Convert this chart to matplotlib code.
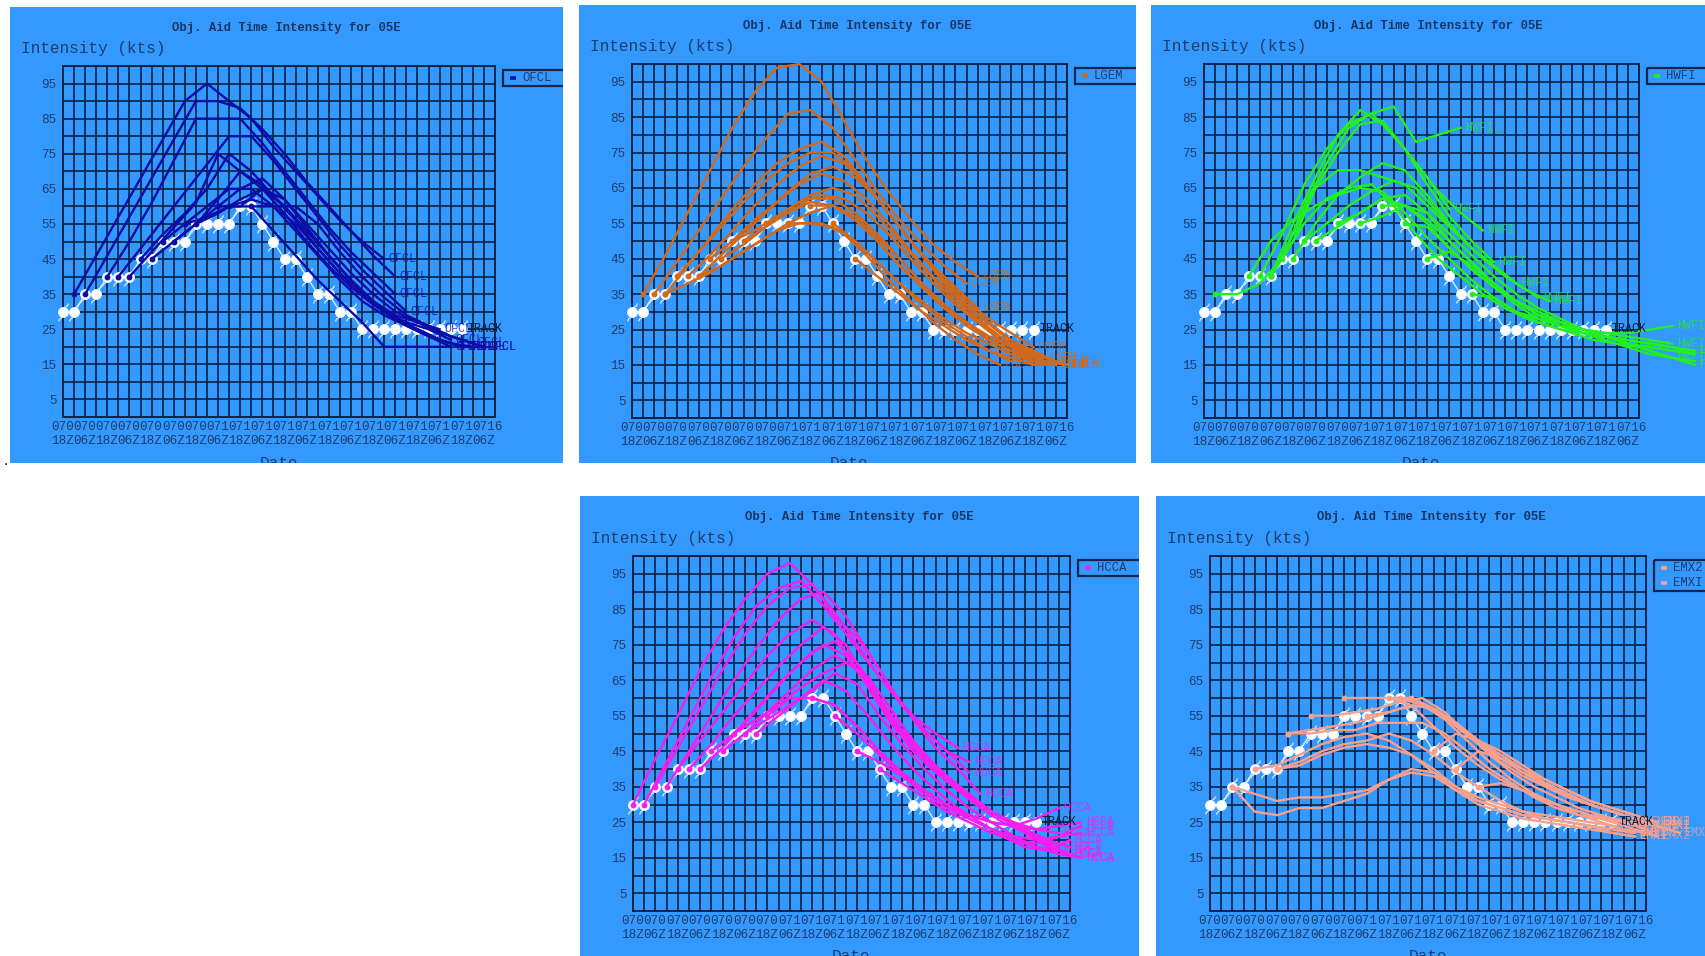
import numpy as np
import matplotlib
matplotlib.use('Agg')
import matplotlib.pyplot as plt
from matplotlib.patches import Rectangle
from matplotlib.path import Path
from matplotlib.transforms import offset_copy

FONT = 'Liberation Mono'

# ---------------- data ----------------
track_values = [30, 30, 35, 35, 40, 40, 40, 45, 45, 50, 50, 50, 55, 55, 55, 55, 60, 60,
                55, 50, 45, 45, 40, 35, 35, 30, 30, 25, 25, 25, 25, 25, 25, 25, 25, 25, 25]

x_tick_dates = ['0706', '0707', '0707', '0708', '0708', '0709', '0709', '0710', '0710', '0711',
                '0711', '0712', '0712', '0713', '0713', '0714', '0714', '0715', '0715', '0716']
x_tick_hours = ['18Z', '06Z', '18Z', '06Z', '18Z', '06Z', '18Z', '06Z', '18Z', '06Z',
                '18Z', '06Z', '18Z', '06Z', '18Z', '06Z', '18Z', '06Z', '18Z', '06Z']
y_label_values = [5, 15, 25, 35, 45, 55, 65, 75, 85, 95]

# forecasts: (start index in 6-h steps, intensities every 12 h)
ofcl_forecasts = [
    (1, [35, 46, 57, 68, 79, 90, 95, 90, 85, 77, 70, 63, 56, 50, 45]),
    (2, [35, 46, 57, 68, 79, 90, 90, 88, 82, 75, 67, 60, 53, 46, 40]),
    (4, [40, 50, 61, 73, 85, 85, 85, 78, 70, 62, 54, 47, 41, 35]),
    (5, [40, 48, 56, 64, 72, 80, 80, 73, 65, 57, 49, 42, 36, 30]),
    (6, [40, 47, 54, 61, 75, 70, 66, 60, 53, 46, 39, 33, 29, 27, 25]),
    (7, [45, 52, 58, 65, 75, 70, 63, 56, 48, 41, 35, 30, 27, 25, 22]),
    (8, [45, 50, 55, 62, 70, 65, 58, 50, 43, 37, 32, 28, 25, 22, 20]),
    (9, [50, 55, 60, 65, 65, 60, 53, 46, 39, 33, 29, 26, 23, 21, 20]),
    (10, [50, 55, 60, 65, 68, 62, 54, 46, 39, 33, 28, 25, 22, 20, 20]),
    (11, [55, 57, 60, 60, 60, 60, 55, 47, 40, 34, 29, 26, 23, 21]),
    (12, [55, 58, 62, 65, 62, 55, 48, 41, 35, 30, 27, 24, 22, 20]),
    (14, [60, 60, 65, 60, 53, 46, 39, 33, 28, 25, 22, 20]),
    (15, [60, 62, 60, 55, 48, 41, 35, 30, 26, 23, 20]),
    (17, [60, 53, 46, 39, 33, 27, 20, 20, 20, 20]),
]

lgem_forecasts = [
    (1, [35, 46, 58, 70, 82, 92, 99, 100, 95, 84, 73, 64, 56, 49, 44, 40]),
    (2, [35, 44, 53, 62, 71, 79, 86, 87, 82, 73, 64, 56, 49, 43, 38]),
    (3, [35, 43, 51, 59, 66, 72, 76, 78, 74, 66, 58, 50, 43, 37, 31]),
    (4, [40, 47, 54, 61, 67, 72, 75, 75, 70, 62, 54, 46, 39, 33, 28, 24, 20]),
    (5, [40, 46, 53, 60, 66, 71, 74, 72, 66, 58, 50, 42, 35, 29, 24, 20, 17]),
    (6, [40, 46, 52, 58, 64, 69, 71, 68, 62, 54, 46, 38, 32, 27, 22, 19, 16]),
    (7, [45, 50, 56, 61, 66, 69, 67, 62, 55, 47, 40, 34, 28, 23, 19, 16, 15]),
    (8, [45, 49, 54, 59, 63, 65, 63, 57, 50, 43, 36, 30, 25, 21, 18, 16]),
    (9, [50, 53, 57, 61, 63, 62, 58, 52, 45, 38, 32, 27, 22, 19, 16, 15]),
    (10, [50, 54, 58, 62, 62, 58, 52, 45, 38, 32, 27, 22, 19, 16, 15]),
    (12, [55, 58, 61, 60, 56, 50, 43, 37, 31, 26, 22, 19, 17, 15]),
    (14, [55, 58, 60, 57, 51, 45, 38, 32, 27, 23, 20, 17, 15]),
    (16, [60, 60, 56, 50, 43, 37, 31, 27, 23, 20, 17, 15]),
    (3, [35, 38, 41, 45, 49, 53, 55, 55, 52, 46, 39, 33, 27, 22, 18, 15]),
    (6, [40, 43, 47, 51, 55, 55, 54, 50, 44, 38, 32, 27, 23, 19, 16]),
    (18, [55, 50, 44, 38, 33, 28, 24, 21, 18, 16, 15]),
    (20, [45, 40, 35, 30, 26, 22, 19, 17, 15, 15]),
]

hwfi_forecasts = [
    (5, [40, 52, 66, 76, 83, 86, 88, 78, 80, 82]),
    (6, [40, 55, 68, 80, 87, 83, 76, 68, 59]),
    (7, [45, 60, 72, 82, 86, 80, 72, 64, 58, 53]),
    (6, [40, 52, 65, 75, 83, 84, 76, 66, 57, 50, 44]),
    (6, [40, 50, 65, 70, 70, 68, 66, 60, 54, 48, 43, 38]),
    (8, [45, 55, 63, 68, 72, 70, 63, 55, 48, 43, 38, 34]),
    (9, [50, 55, 60, 64, 67, 65, 58, 51, 45, 40, 36, 33]),
    (4, [40, 50, 56, 60, 63, 65, 64, 58, 51, 45, 39, 34, 30, 27, 25, 24, 23, 22, 21, 20, 19]),
    (10, [50, 54, 58, 62, 60, 55, 48, 42, 37, 32, 28, 26, 24, 23, 22, 21, 20, 18]),
    (12, [55, 58, 62, 63, 58, 50, 44, 38, 33, 29, 26, 24, 22, 20, 18, 17]),
    (14, [55, 57, 60, 58, 52, 46, 40, 35, 31, 28, 25, 23, 21, 19, 17, 16]),
    (16, [60, 60, 56, 50, 44, 38, 33, 30, 27, 25, 23, 21, 19, 17, 15]),
    (18, [55, 54, 48, 42, 37, 33, 29, 27, 25, 23, 21, 20, 19, 18]),
    (20, [45, 47, 43, 38, 33, 30, 27, 25, 24, 23, 22, 21]),
    (24, [35, 34, 30, 28, 26, 25, 24, 24, 25, 26]),
    (1, [35, 35, 38, 45, 55, 62, 65, 66, 60, 52, 45, 40, 35, 31, 28, 26, 24, 22, 21, 20]),
]

hcca_forecasts = [
    (0, [30, 43, 55, 68, 79, 88, 95, 98, 92, 83, 77, 68, 58, 51, 45, 39]),
    (1, [30, 42, 54, 66, 77, 86, 91, 93, 86, 78, 70, 62, 55, 50, 46]),
    (2, [35, 46, 57, 68, 78, 86, 91, 92, 84, 75, 66, 58, 51, 45, 42]),
    (3, [35, 45, 55, 65, 74, 82, 88, 90, 83, 73, 63, 54, 46, 40, 33]),
    (4, [40, 48, 56, 64, 72, 78, 82, 78, 68, 58, 50, 43, 37, 32, 28, 25, 23, 22]),
    (5, [40, 47, 55, 62, 69, 75, 80, 75, 64, 54, 46, 40, 35, 30, 26, 23, 20, 18]),
    (6, [40, 46, 53, 60, 67, 73, 76, 70, 60, 50, 43, 37, 32, 28, 24, 21, 18]),
    (7, [45, 50, 57, 64, 70, 75, 72, 63, 53, 45, 39, 34, 29, 25, 22, 19, 16]),
    (8, [45, 50, 56, 62, 68, 72, 68, 60, 51, 44, 38, 33, 28, 24, 20, 17, 15]),
    (9, [50, 54, 58, 63, 67, 70, 66, 57, 48, 41, 35, 30, 26, 22, 18, 16]),
    (10, [50, 54, 58, 62, 67, 64, 55, 47, 40, 34, 29, 25, 21, 18, 16, 15]),
    (11, [50, 55, 60, 65, 62, 55, 47, 40, 34, 29, 25, 21, 18, 17, 20]),
    (12, [55, 60, 60, 58, 52, 45, 39, 34, 30, 27, 25, 24, 26, 29]),
    (16, [60, 58, 52, 45, 39, 34, 30, 27, 25, 24, 23, 24, 25]),
    (18, [55, 50, 44, 38, 33, 29, 26, 23, 21, 20, 21, 22]),
    (20, [45, 42, 38, 34, 30, 26, 23, 20, 18, 17]),
    (22, [40, 36, 32, 28, 25, 22, 20, 19, 21, 24]),
]

emx_forecasts = [
    (12, [60, 60, 60, 58, 52, 46, 41, 37, 34, 31, 29, 27, 25, 23, 21]),
    (18, [60, 57, 53, 48, 43, 39, 36, 33, 30, 28, 26, 24]),
    (9, [55, 55, 56, 57, 59, 60, 56, 50, 44, 39, 35, 32, 29, 27, 25, 23]),
    (7, [50, 51, 52, 53, 55, 57, 58, 54, 48, 42, 37, 33, 30, 27, 25, 23, 22]),
    (6, [40, 42, 45, 47, 48, 50, 48, 44, 39, 35, 31, 28, 26, 25, 24, 23, 22]),
    (6, [40, 41, 44, 46, 47, 46, 44, 40, 35, 31, 29, 27, 26, 25, 24, 22, 21]),
    (2, [35, 33, 31, 32, 32, 33, 34, 37, 40, 39, 35, 32, 30, 28, 27, 26, 25, 24, 22]),
    (2, [35, 28, 27, 29, 29, 31, 33, 37, 39, 38, 34, 31, 29, 27, 26, 25, 24, 23, 22]),
    (7, [50, 50, 51, 51, 53, 53, 53, 50, 45, 40, 36, 32, 29, 27, 26, 25, 24]),
    (14, [55, 56, 58, 57, 52, 47, 42, 38, 35, 32, 30, 28, 26, 24]),
    (16, [60, 60, 57, 53, 48, 44, 40, 36, 33, 30, 28, 26, 24, 22]),
    (17, [60, 58, 55, 50, 45, 41, 37, 34, 31, 29, 27, 25]),
    (20, [45, 50, 48, 45, 41, 37, 34, 31, 29, 27, 25]),
    (22, [40, 45, 43, 40, 37, 34, 31, 29, 27, 25]),
    (24, [35, 36, 34, 31, 29, 27, 26, 25, 24]),
    (4, [40, 41, 44, 47, 49, 50, 48, 44, 39, 34, 30, 28, 26, 25, 24, 23, 22, 21]),
]
emx_names = ['EMX2', 'EMXI'] * 8

# ---------------- style ----------------
W, H = 1706, 956
BLUE = '#3399ff'
GRID = '#0e2448'
TXT = '#1f3d6a'
TITLE = 'Obj. Aid Time Intensity for 05E'
TICK_FS = 9.1

panels = [
    dict(panel=(10, 7, 563, 463), plot=(63, 66, 495, 417), color='#0c0ca8',
         fc=ofcl_forecasts, names=['OFCL'] * len(ofcl_forecasts), legend=['OFCL']),
    dict(panel=(579, 5, 1136, 463), plot=(632, 64, 1067, 418), color='#d0691e',
         fc=lgem_forecasts, names=['LGEM'] * len(lgem_forecasts), legend=['LGEM']),
    dict(panel=(1151, 5, 1706, 463), plot=(1204, 64, 1639, 418), color='#22ee22',
         fc=hwfi_forecasts, names=['HWFI'] * len(hwfi_forecasts), legend=['HWFI']),
    dict(panel=(580, 496, 1139, 956), plot=(633, 556, 1070, 911), color='#f51ef0',
         fc=hcca_forecasts, names=['HCCA'] * len(hcca_forecasts), legend=['HCCA']),
    dict(panel=(1156, 496, 1706, 956), plot=(1210, 556, 1646, 911), color='#f7a08e',
         fc=emx_forecasts, names=emx_names, legend=['EMX2', 'EMXI']),
]

# small "hooks" of the tropical-cyclone symbol drawn around each track point
hook_path = Path([(0.15, 0.55), (0.45, 0.75), (0.55, 1.0),
                  (-0.15, -0.55), (-0.45, -0.75), (-0.55, -1.0)],
                 [Path.MOVETO, Path.LINETO, Path.LINETO,
                  Path.MOVETO, Path.LINETO, Path.LINETO])

fig = plt.figure(figsize=(W / 100, H / 100), dpi=100)
fig.patch.set_facecolor('white')


def rect(x0, y0, x1, y1):
    return [x0 / W, 1 - y1 / H, (x1 - x0) / W, (y1 - y0) / H]


for p in panels:
    x0, y0, x1, y1 = p['panel']
    px0, py0, px1, py1 = p['plot']
    pw, ph = x1 - x0, y1 - y0
    col = p['color']

    bg = fig.add_axes(rect(x0, y0, x1, y1))
    bg.set_facecolor(BLUE)
    bg.set_xlim(0, pw)
    bg.set_ylim(ph, 0)
    bg.set_xticks([])
    bg.set_yticks([])
    for sp in bg.spines.values():
        sp.set_visible(False)

    bg.text(pw / 2, 21, TITLE, ha='center', va='center', fontsize=8.8,
            fontweight='bold', family=FONT, color='#1c3560')
    bg.text(11, 42, 'Intensity (kts)', ha='left', va='center', fontsize=11.6,
            family=FONT, color=TXT)
    bg.text((px0 + px1) / 2 - x0, ph - 7, 'Date', ha='center', va='top',
            fontsize=11.6, family=FONT, color=TXT, clip_on=True)

    # legend
    lx, ly = px1 - x0 + 8, py0 - y0 + 4
    lh = 16 if len(p['legend']) == 1 else 31
    bg.add_patch(Rectangle((lx, ly), 95, lh, facecolor='none', edgecolor='#12244a',
                           lw=1.6, clip_on=True))
    for k, nm in enumerate(p['legend']):
        yy = ly + 8 + 15 * k
        bg.plot([lx + 7, lx + 13], [yy, yy], color=col, lw=2.6, solid_capstyle='butt')
        bg.text(lx + 19, yy, nm, ha='left', va='center', fontsize=8.8, family=FONT,
                color=TXT, clip_on=True)

    ax = fig.add_axes(rect(px0, py0, px1, py1))
    ax.set_facecolor('none')
    ax.set_xlim(0, 39)
    ax.set_ylim(0, 100)
    ax.set_xticks(range(40))
    ax.set_xticklabels([])
    ax.set_yticks(range(0, 101, 5))
    ax.set_yticklabels([str(v) if v in y_label_values else '' for v in range(0, 101, 5)])
    ax.tick_params(length=0, labelsize=TICK_FS, labelcolor=TXT, pad=4.5)
    for lab in ax.get_yticklabels():
        lab.set_family(FONT)
    ax.grid(True, color=GRID, lw=1.25)
    ax.set_axisbelow(True)
    for sp in ax.spines.values():
        sp.set_color(GRID)
        sp.set_linewidth(1.4)

    # x tick labels (two rows; dates overlap so only 3 chars of each remain visible)
    t1 = offset_copy(ax.get_xaxis_transform(), fig=fig, x=-12, y=-10, units='dots')
    t2 = offset_copy(ax.get_xaxis_transform(), fig=fig, x=-12, y=-24, units='dots')
    n = len(x_tick_dates)
    for k in range(n):
        d = x_tick_dates[k] if k == n - 1 else x_tick_dates[k][:3]
        ax.text(2 * k, 0, d, transform=t1, ha='left', va='center', fontsize=TICK_FS,
                family=FONT, color=TXT)
        ax.text(2 * k, 0, x_tick_hours[k], transform=t2, ha='left', va='center',
                fontsize=TICK_FS, family=FONT, color=TXT)

    # track
    tx = np.arange(len(track_values))
    ax.plot(tx, track_values, color='#d6ebff', lw=1.0, zorder=2.5, clip_on=False)
    ax.plot(tx, track_values, ls='none', marker=hook_path, ms=13, mfc='none',
            mec='#e8f3ff', mew=0.8, zorder=2.55, clip_on=False)
    ax.plot(tx, track_values, ls='none', marker='o', ms=7.0, mfc='white', mec='#eef6ff',
            mew=0.8, zorder=2.6, clip_on=False)
    ax.text(tx[-1] + 0.5, track_values[-1], 'TRACK', ha='left', va='center', fontsize=8.4,
            family=FONT, color='#0d1c40', zorder=5, clip_on=False)

    # forecasts
    for (s, vals), nm in zip(p['fc'], p['names']):
        xs = s + 2 * np.arange(len(vals))
        ax.plot(xs, vals, color=col, lw=1.7, zorder=3, clip_on=False,
                solid_joinstyle='round')
        ax.plot([xs[0]], [vals[0]], ls='none', marker='o', ms=3.2, color=col, zorder=4,
                clip_on=False)
        ax.text(xs[-1] + 0.4, vals[-1], nm, ha='left', va='center', fontsize=8.4,
                family=FONT, color=col, alpha=0.75, zorder=4, clip_on=False)

fig.text(4 / W, 1 - 461 / H, '.', fontsize=10, color='black', ha='left', va='center')

fig.savefig('out.png', dpi=100, facecolor='white')
